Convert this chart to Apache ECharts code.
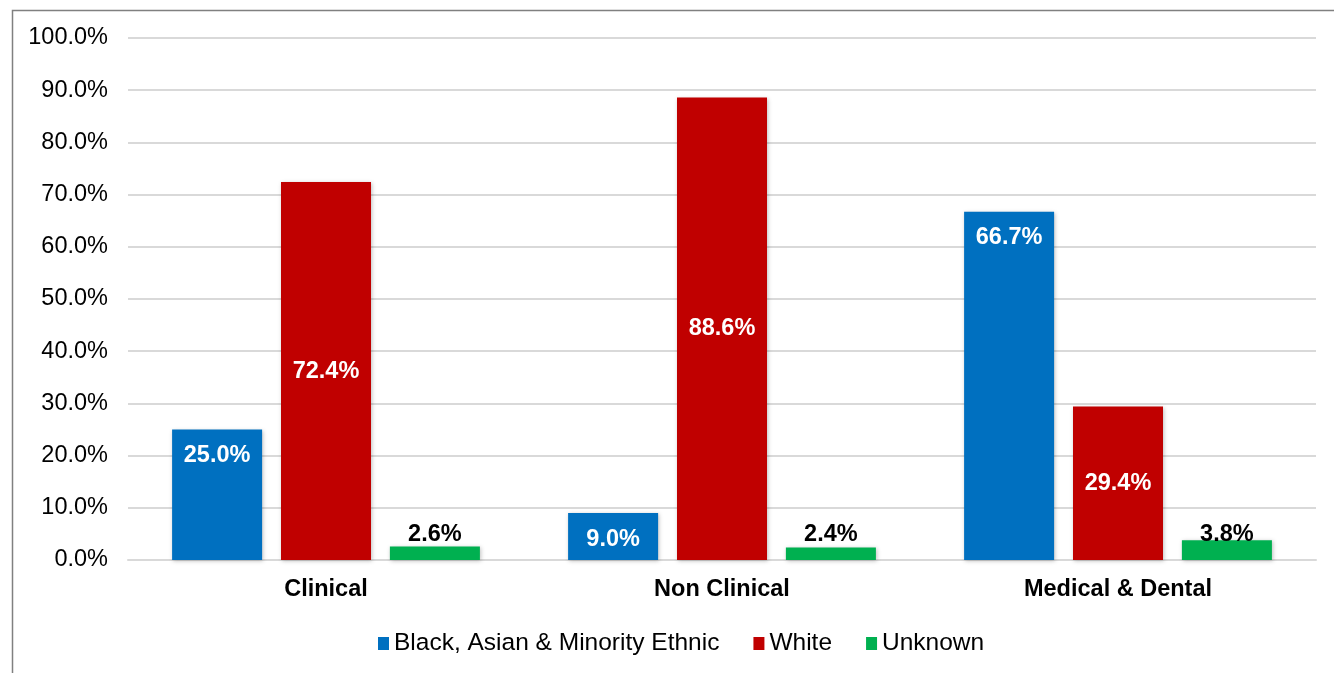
<!DOCTYPE html>
<html>
<head>
<meta charset="utf-8">
<script src="https://cdn.jsdelivr.net/npm/echarts@6/dist/echarts.min.js"></script>
<style>html,body{margin:0;padding:0;background:#fff}#c{width:1334px;height:673px}</style>
</head>
<body>
<div id="c"></div>
<script>
const categories = ['Clinical', 'Non Clinical', 'Medical & Dental'];
const bameValues = [25.0, 9.0, 66.7];
const whiteValues = [72.4, 88.6, 29.4];
const unknownValues = [2.6, 2.4, 3.8];
const seriesNames = ['Black, Asian & Minority Ethnic', 'White', 'Unknown'];

const font = '"Liberation Sans", Arial, sans-serif';
const fmt = p => p.value.toFixed(1) + '%';
const shadow = {shadowBlur: 4, shadowColor: 'rgba(0,0,0,0.25)', shadowOffsetX: 1, shadowOffsetY: 1};

const chart = echarts.init(document.getElementById('c'), null, {renderer: 'canvas'});
chart.setOption({
  animation: false,
  backgroundColor: '#fff',
  graphic: [{
    type: 'rect', left: 10, top: 8, silent: true,
    shape: {width: 1340, height: 700},
    style: {fill: 'none', stroke: '#808080', lineWidth: 1.5}
  }],
  grid: {left: 128, right: 18, top: 38, bottom: 113},
  legend: {
    top: 626, left: 373,
    itemWidth: 11, itemHeight: 13, itemGap: 34,
    icon: 'rect',
    textStyle: {fontFamily: font, fontSize: 24.5, color: '#000'},
    data: seriesNames
  },
  xAxis: {
    type: 'category', data: categories,
    axisLine: {show: true, lineStyle: {color: '#d9d9d9', width: 2}},
    axisTick: {show: false},
    axisLabel: {fontFamily: font, fontSize: 23.5, fontWeight: 'bold', color: '#000', margin: 18}
  },
  yAxis: {
    type: 'value', min: 0, max: 100, interval: 10,
    axisLine: {show: false}, axisTick: {show: false},
    splitLine: {lineStyle: {color: '#d9d9d9', width: 2}},
    axisLabel: {fontFamily: font, fontSize: 23.5, color: '#000', margin: 20,
      formatter: v => v.toFixed(1) + '%'}
  },
  series: [
    {name: seriesNames[0], type: 'bar', data: bameValues, barWidth: 90, barGap: '21%',
     itemStyle: Object.assign({color: '#0070C0'}, shadow),
     label: {show: true, position: 'insideTop', distance: 14, formatter: fmt,
       fontFamily: font, fontSize: 23.5, fontWeight: 'bold', color: '#fff'}},
    {name: seriesNames[1], type: 'bar', data: whiteValues, barWidth: 90, barGap: '21%',
     itemStyle: Object.assign({color: '#C00000'}, shadow),
     label: {show: true, position: 'inside', formatter: fmt,
       fontFamily: font, fontSize: 23.5, fontWeight: 'bold', color: '#fff'}},
    {name: seriesNames[2], type: 'bar', data: unknownValues, barWidth: 90, barGap: '21%',
     itemStyle: Object.assign({color: '#00B050'}, shadow),
     label: {show: true, position: 'insideBottom', distance: 13, formatter: fmt,
       fontFamily: font, fontSize: 23.5, fontWeight: 'bold', color: '#000'}}
  ]
});
</script>
</body>
</html>
